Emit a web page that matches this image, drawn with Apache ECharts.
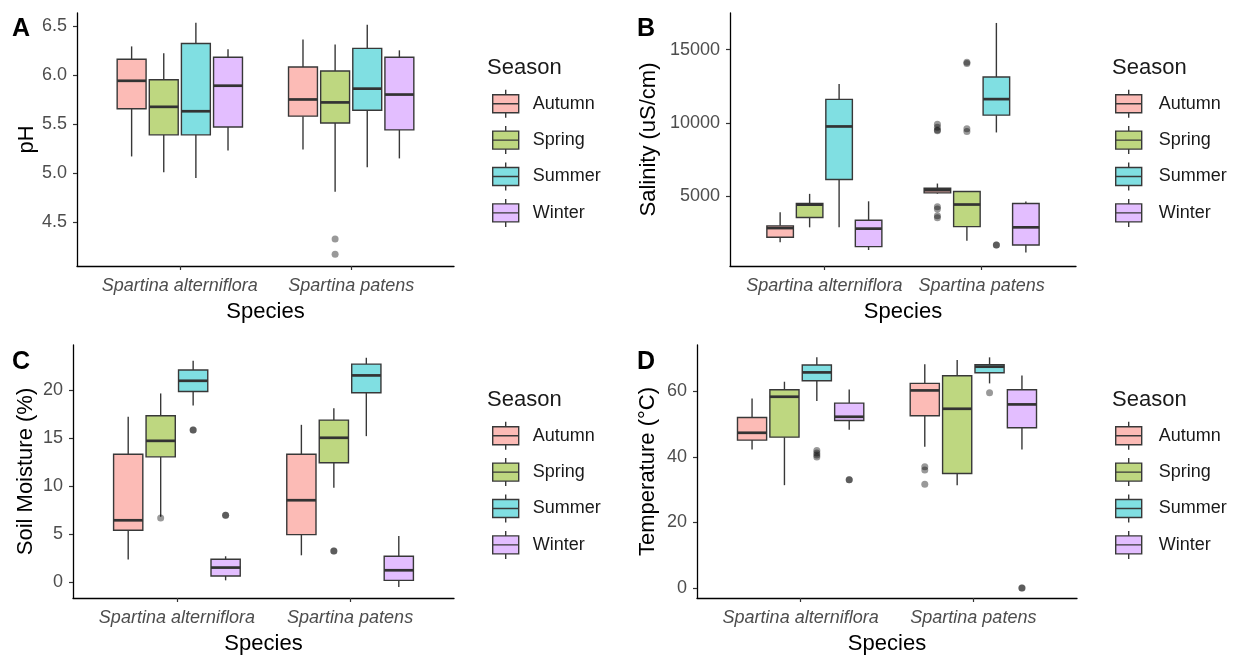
<!DOCTYPE html>
<html>
<head>
<meta charset="utf-8">
<script src="https://cdn.jsdelivr.net/npm/echarts@6/dist/echarts.min.js"></script>
<style>html,body{margin:0;padding:0;background:#fff;}#c{width:1234px;height:656px;}</style>
</head>
<body>
<div id="c"></div>
<script>
// ---- categories ----
const species = ['Spartina alterniflora', 'Spartina patens'];
const seasons = ['Autumn', 'Spring', 'Summer', 'Winter'];
const seasonColors = ['#FCBBB6', '#BED780', '#80DFE2', '#E3BEFF'];

// ---- box stats: [low whisker, Q1, median, Q3, high whisker] for [S. alterniflora, S. patens] ----
// A: pH
const phAutumn = [[5.17, 5.655, 5.94, 6.16, 6.29], [5.24, 5.58, 5.75, 6.08, 6.36]];
const phSpring = [[5.01, 5.39, 5.675, 5.95, 6.22], [4.81, 5.51, 5.72, 6.04, 6.31]];
const phSummer = [[4.95, 5.39, 5.63, 6.32, 6.53], [5.06, 5.64, 5.86, 6.27, 6.51]];
const phWinter = [[5.23, 5.47, 5.89, 6.18, 6.26], [5.15, 5.44, 5.80, 6.18, 6.25]];
// outliers: [species index, season index, value]
const phOutliers = [[1, 1, 4.33], [1, 1, 4.175]];

// B: Salinity (uS/cm)
const salAutumn = [[1830, 2170, 2800, 2950, 3880], [5150, 5206, 5390, 5525, 5845]];
const salSpring = [[2850, 3520, 4400, 4480, 5140], [1940, 2900, 4410, 5300, 5300]];
const salSummer = [[2850, 6120, 9750, 11600, 12650], [9340, 10525, 11620, 13130, 16830]];
const salWinter = [[1300, 1530, 2760, 3330, 4630], [1120, 1640, 2850, 4480, 4610]];
const salOutliers = [
  [1, 0, 9900], [1, 0, 9700], [1, 0, 9500], [1, 0, 9450], [1, 0, 4250], [1, 0, 4100], [1, 0, 3650], [1, 0, 3500],
  [1, 1, 14150], [1, 1, 14050], [1, 1, 9600], [1, 1, 9400],
  [1, 2, 1640], [1, 2, 1640]
];

// C: Soil Moisture (%)
const smAutumn = [[2.33, 5.39, 6.43, 13.32, 17.22], [2.78, 4.94, 8.52, 13.32, 16.38]];
const smSpring = [[6.8, 13.04, 14.71, 17.32, 19.65], [9.81, 12.42, 15.03, 16.87, 18.12]];
const smSummer = [[18.4, 19.86, 20.97, 22.09, 23.06], [15.2, 19.72, 21.53, 22.71, 23.37]];
const smWinter = [[0.17, 0.63, 1.5, 2.37, 2.68], [-0.52, 0.17, 1.22, 2.68, 4.8]];
const smOutliers = [[0, 1, 6.68], [0, 2, 15.83], [0, 2, 15.83], [0, 3, 6.96], [0, 3, 6.96], [1, 1, 3.23], [1, 1, 3.23]];

// D: Temperature (°C)
const tAutumn = [[42.28, 45.13, 47.37, 52.05, 57.86], [43.09, 52.56, 60.3, 62.44, 68.25]];
const tSpring = [[31.38, 46.04, 58.37, 60.5, 62.95], [31.38, 34.94, 54.7, 64.79, 69.57]];
const tSummer = [[57.05, 63.26, 65.8, 68.05, 70.39], [62.44, 65.7, 67.54, 68.15, 70.39]];
const tWinter = [[48.29, 51.14, 52.26, 56.43, 60.6], [42.28, 48.9, 56.03, 60.5, 64.89]];
const tOutliers = [[0, 2, 42.0], [0, 2, 41.2], [0, 2, 40.6], [0, 2, 40.0], [0, 3, 33.0], [0, 3, 33.0],
  [1, 0, 37.0], [1, 0, 36.0], [1, 0, 31.7], [1, 2, 59.6], [1, 3, 0], [1, 3, 0]];

// ---- tick labels ----
const phTicks = [4.5, 5.0, 5.5, 6.0, 6.5];
const salTicks = [5000, 10000, 15000];
const smTicks = [0, 5, 10, 15, 20];
const tTicks = [0, 20, 40, 60];

const DODGE = 0.75 / 4;
const BOX_W = DODGE * 0.9;
const FONT = '"Liberation Sans", Arial, sans-serif';
const LINE = '#383838';

function xPos(sp, se) { return (sp + 1) + (se - 1.5) * DODGE; }

function renderBox(params, api) {
  const x = api.value(0);
  const lo = api.coord([x, api.value(1)]);
  const q1 = api.coord([x, api.value(2)]);
  const md = api.coord([x, api.value(3)]);
  const q3 = api.coord([x, api.value(4)]);
  const hi = api.coord([x, api.value(5)]);
  const left = api.coord([x - BOX_W / 2, api.value(3)])[0];
  const right = api.coord([x + BOX_W / 2, api.value(3)])[0];
  const fill = api.visual('color');
  return {
    type: 'group',
    children: [
      { type: 'line', shape: { x1: lo[0], y1: lo[1], x2: q1[0], y2: q1[1] }, style: { stroke: LINE, lineWidth: 1.4 } },
      { type: 'line', shape: { x1: q3[0], y1: q3[1], x2: hi[0], y2: hi[1] }, style: { stroke: LINE, lineWidth: 1.4 } },
      { type: 'rect', shape: { x: left, y: q3[1], width: right - left, height: q1[1] - q3[1] }, style: { fill: fill, stroke: LINE, lineWidth: 1.4 } },
      { type: 'line', shape: { x1: left, y1: md[1], x2: right, y2: md[1] }, style: { stroke: '#333', lineWidth: 2.7 } }
    ]
  };
}

const panels = [
  { letter: 'A', name: 'pH', boxes: [phAutumn, phSpring, phSummer, phWinter], out: phOutliers, ticks: phTicks,
    min: 4.055, max: 6.63, fmt: v => v.toFixed(1), grid: { left: 77, top: 13, width: 377, height: 253 }, nameGap: 39,
    letterPos: [12, 17], legendPos: [492, 89, 8], seasonPos: [487, 57] },
  { letter: 'B', name: 'Salinity (uS/cm)', boxes: [salAutumn, salSpring, salSummer, salWinter], out: salOutliers, ticks: salTicks,
    min: 205, max: 17511, fmt: v => String(v), grid: { left: 730, top: 13, width: 346, height: 253 }, nameGap: 70,
    letterPos: [637, 17], legendPos: [1115, 89, 11], seasonPos: [1112, 57] },
  { letter: 'C', name: 'Soil Moisture (%)', boxes: [smAutumn, smSpring, smSummer, smWinter], out: smOutliers, ticks: smTicks,
    min: -1.67, max: 24.7, fmt: v => String(v), grid: { left: 73, top: 345, width: 381, height: 253 }, nameGap: 36,
    letterPos: [12, 350], legendPos: [492, 421, 8], seasonPos: [487, 389] },
  { letter: 'D', name: 'Temperature (°C)', boxes: [tAutumn, tSpring, tSummer, tWinter], out: tOutliers, ticks: tTicks,
    min: -3.05, max: 74.16, fmt: v => String(v), grid: { left: 697, top: 345, width: 380, height: 253 }, nameGap: 38,
    letterPos: [637, 350], legendPos: [1115, 421, 11], seasonPos: [1112, 389] }
];

const option = {
  animation: false,
  backgroundColor: '#fff',
  title: [], grid: [], xAxis: [], yAxis: [], series: [], legend: []
};

const legendIcon = 'path://M14,0L14,5M1,5L27,5L27,23L1,23ZM1,14L27,14M14,23L14,28';

panels.forEach((p, i) => {
  option.grid.push(Object.assign({ containLabel: false }, p.grid));
  option.title.push({ text: p.letter, left: p.letterPos[0], top: p.letterPos[1], padding: 0,
    textStyle: { fontFamily: FONT, fontSize: 25, fontWeight: 'bold', color: '#000' } });
  option.title.push({ text: 'Season', left: p.seasonPos[0], top: p.seasonPos[1], padding: 0,
    textStyle: { fontFamily: FONT, fontSize: 22, fontWeight: 'normal', color: '#1a1a1a' } });
  option.xAxis.push({
    type: 'value', gridIndex: i, min: 0.4, max: 2.6,
    splitLine: { show: false },
    axisLine: { show: true, onZero: false, lineStyle: { color: '#000', width: 1.3 } },
    axisTick: { show: true, customValues: [1, 2], length: 4, lineStyle: { color: '#333', width: 1.2 } },
    axisLabel: { customValues: [1, 2], formatter: v => species[Math.round(v) - 1], fontFamily: FONT,
      fontStyle: 'italic', fontSize: 18, color: '#4d4d4d', margin: 11 },
    name: 'Species', nameLocation: 'middle', nameGap: 35,
    nameTextStyle: { fontFamily: FONT, fontSize: 22, color: '#000' }
  });
  option.yAxis.push({
    type: 'value', gridIndex: i, min: p.min, max: p.max,
    splitLine: { show: false },
    axisLine: { show: true, onZero: false, lineStyle: { color: '#000', width: 1.3 } },
    axisTick: { show: true, customValues: p.ticks, length: 4, lineStyle: { color: '#333', width: 1.2 } },
    axisLabel: { customValues: p.ticks, formatter: p.fmt, fontFamily: FONT, fontSize: 18, color: '#4d4d4d', margin: 10 },
    name: p.name, nameLocation: 'middle', nameGap: p.nameGap,
    nameTextStyle: { fontFamily: FONT, fontSize: 22, color: '#000' }
  });
  seasons.forEach((s, se) => {
    const data = p.boxes[se].map((b, sp) => [xPos(sp, se)].concat(b));
    option.series.push({
      type: 'custom', name: s, xAxisIndex: i, yAxisIndex: i,
      itemStyle: { color: seasonColors[se], borderColor: LINE, borderWidth: 1.4 },
      encode: { x: 0, y: [1, 2, 3, 4, 5] },
      renderItem: renderBox, data: data, z: 2
    });
  });
  option.series.push({
    type: 'scatter', name: 'outliers', xAxisIndex: i, yAxisIndex: i,
    symbolSize: 7, z: 3,
    itemStyle: { color: 'rgba(0,0,0,0.5)' },
    data: p.out.map(o => [xPos(o[0], o[1]), o[2]])
  });
  option.legend.push({
    data: seasons, orient: 'vertical', left: p.legendPos[0], top: p.legendPos[1],
    itemWidth: 28, itemHeight: 28, itemGap: 7, selectedMode: false, padding: 0,
    icon: legendIcon,
    itemStyle: { borderColor: LINE, borderWidth: 1.4 },
    textStyle: { fontFamily: FONT, fontSize: 18, color: '#1a1a1a', padding: [0, 0, 0, p.legendPos[2]] }
  });
});

const chart = echarts.init(document.getElementById('c'), null, { renderer: 'canvas' });
chart.setOption(option);
</script>
</body>
</html>
